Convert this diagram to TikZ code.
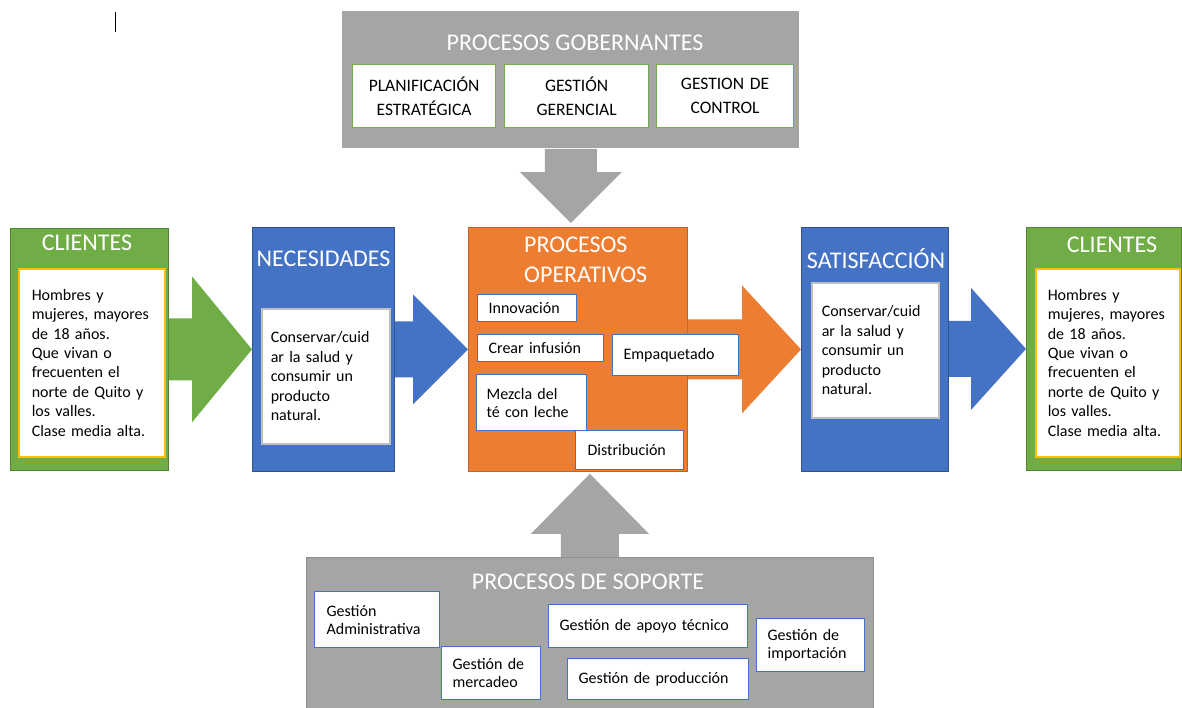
\documentclass[tikz,border=0pt]{standalone}
\usepackage{fontspec}
\setmainfont{Carlito}
\usetikzlibrary{calc}

\definecolor{verde}{HTML}{70AD47}
\definecolor{verdeosc}{HTML}{548235}
\definecolor{azul}{HTML}{4472C4}
\definecolor{azulosc}{HTML}{2F528F}
\definecolor{naranja}{HTML}{ED7D31}
\definecolor{naranjaosc}{HTML}{C0652A}
\definecolor{gris}{HTML}{A5A5A5}
\definecolor{grisosc}{HTML}{8E8E8E}
\definecolor{amarillo}{HTML}{FFC000}
\definecolor{grisclaro}{HTML}{BFBFBF}

\tikzset{
  bloque/.style={rectangle, anchor=north west, inner sep=0pt, line width=0.8pt},
  titulo/.style={text=white, inner sep=0pt, font=\fontsize{24}{30}\selectfont},
  caja/.style={rectangle, anchor=north west, fill=white, draw=azul, line width=1.2pt,
    align=left, inner ysep=0pt, inner xsep=11pt, font=\fontsize{16}{18}\selectfont},
  gcaja/.style={caja, draw=verde, align=center, inner xsep=4pt, font=\fontsize{17.5}{24}\selectfont},
  tcaja/.style={caja, line width=1.5pt, font=\fontsize{16}{19.4}\selectfont}
}

% texto repetido en los dos lados
\newcommand{\txtcliente}{Hombres y\\mujeres, mayores\\de 18 años.\\Que vivan o\\frecuenten el\\norte de Quito y\\los valles.\\Clase media alta.}
\newcommand{\txtsalud}{Conservar/cuid\\ar la salud y\\consumir un\\producto\\natural.}

% flecha gruesa horizontal: color, desde, hasta, largo punta, medio ancho, medio ancho punta
\newcommand{\flecha}[6]{%
  \fill[#1] ($(#2.east |- #3.west)+(0,#5)$) -- ($(#3.west)+(-#4,#5)$) -- ($(#3.west)+(-#4,#6)$)
    -- (#3.west) -- ($(#3.west)+(-#4,-#6)$) -- ($(#3.west)+(-#4,-#5)$)
    -- ($(#2.east |- #3.west)+(0,-#5)$) -- cycle;}

\begin{document}
\begin{tikzpicture}[x=1pt,y=1pt]
\useasboundingbox (0,0) rectangle (1182,-707);

\draw[line width=1pt] (115,-12) -- (115,-32);

% bloques principales
\node[bloque, fill=gris, minimum width=457pt, minimum height=137pt] (gob) at (342,-11) {};
\node[bloque, fill=verde, draw=verdeosc, minimum width=158pt, minimum height=242pt] (cliL) at (10,-228) {};
\node[bloque, fill=azul, draw=azulosc, minimum width=142pt, minimum height=244pt] (nec) at (252,-227) {};
\node[bloque, fill=naranja, draw=naranjaosc, minimum width=219pt, minimum height=244pt] (op) at (468,-227) {};
\node[bloque, fill=azul, draw=azulosc, minimum width=147pt, minimum height=244pt] (sat) at (801,-227) {};
\node[bloque, fill=verde, draw=verdeosc, minimum width=155pt, minimum height=243pt] (cliR) at (1026,-227) {};
\node[bloque, fill=gris, draw=grisosc, minimum width=567pt, minimum height=152pt] (sop) at (306,-557) {};

% flechas entre bloques
\flecha{verde}{cliL}{nec}{60}{31}{73}
\flecha{azul}{nec}{op}{55}{28}{55}
\flecha{naranja}{op}{sat}{59}{30}{64}
\flecha{azul}{sat}{cliR}{55}{28}{61}

\coordinate (dtip) at ($(gob.south |- op.north)+(0,4)$);
\fill[gris] ($(gob.south)+(-26,0)$) -- ($(dtip)+(-26,51)$) -- ($(dtip)+(-51,51)$) -- (dtip)
  -- ($(dtip)+(51,51)$) -- ($(dtip)+(26,51)$) -- ($(gob.south)+(26,0)$) -- cycle;
\coordinate (utip) at ($(sop.north |- op.south)+(0,-2)$);
\fill[gris] ($(sop.north)+(-29,0)$) -- ($(utip)+(-29,-60)$) -- ($(utip)+(-59,-60)$) -- (utip)
  -- ($(utip)+(59,-60)$) -- ($(utip)+(29,-60)$) -- ($(sop.north)+(29,0)$) -- cycle;

% procesos gobernantes
\node[titulo] (gobt) at (575,-43) {PROCESOS GOBERNANTES};
\node[gcaja, text width=135pt, minimum height=63pt] (plan) at (352,-64) {PLANIFICACIÓN\\ESTRATÉGICA};
\node[gcaja, text width=136pt, minimum height=63pt] (ger) at (504,-64) {GESTIÓN\\GERENCIAL};
\node[gcaja, text width=129pt, minimum height=63pt] (con) at (656,-64) {GESTION DE\\CONTROL};

% clientes y necesidades
\node[titulo] (cliLt) at (87,-243) {CLIENTES};
\node[tcaja, draw=amarillo, inner xsep=13pt, text width=120pt, minimum height=188pt] (cliLx) at (18,-268) {\txtcliente};
\node[titulo] (nect) at (323.5,-259) {NECESIDADES};
\node[tcaja, draw=grisclaro, inner xsep=9pt, text width=110pt, minimum height=135pt] (necx) at (261,-308) {\txtsalud};

% procesos operativos
\node[titulo, align=left, anchor=west] (opt) at (524,-260) {PROCESOS\\OPERATIVOS};
\node[caja, text width=77pt, minimum height=27pt] (inn) at (477,-294) {Innovación};
\node[caja, text width=104pt, minimum height=27pt] (cre) at (477,-334) {Crear infusión};
\node[caja, text width=104pt, minimum height=41pt] (emp) at (612,-334) {Empaquetado};
\node[caja, inner xsep=10pt, text width=90pt, minimum height=56pt] (mez) at (476,-374) {Mezcla del\\té con leche};
\node[caja, inner xsep=12pt, text width=84pt, minimum height=39pt] (dis) at (575,-430) {Distribución};

% satisfaccion y clientes
\node[titulo] (satt) at (876,-259) {SATISFACCIÓN};
\node[tcaja, draw=grisclaro, inner xsep=10pt, text width=107pt, minimum height=135pt] (satx) at (811,-282) {\txtsalud};
\node[titulo] (cliRt) at (1112,-245) {CLIENTES};
\node[tcaja, draw=amarillo, inner xsep=12pt, text width=120pt, minimum height=188pt] (cliRx) at (1035,-268) {\txtcliente};

% procesos de soporte
\node[titulo] (sopt) at (588,-582) {PROCESOS DE SOPORTE};
\node[caja, inner xsep=12pt, text width=101pt, minimum height=56pt] (adm) at (314,-591) {Gestión\\Administrativa};
\node[caja, text width=77pt, minimum height=53pt] (mer) at (441,-646) {Gestión de\\mercadeo};
\node[caja, text width=177pt, minimum height=43pt] (apo) at (548,-604) {Gestión de apoyo técnico};
\node[caja, text width=159pt, minimum height=41pt] (pro) at (567,-658) {Gestión de producción};
\node[caja, text width=86pt, minimum height=53pt] (imp) at (756,-618) {Gestión de\\importación};
\end{tikzpicture}
\end{document}
